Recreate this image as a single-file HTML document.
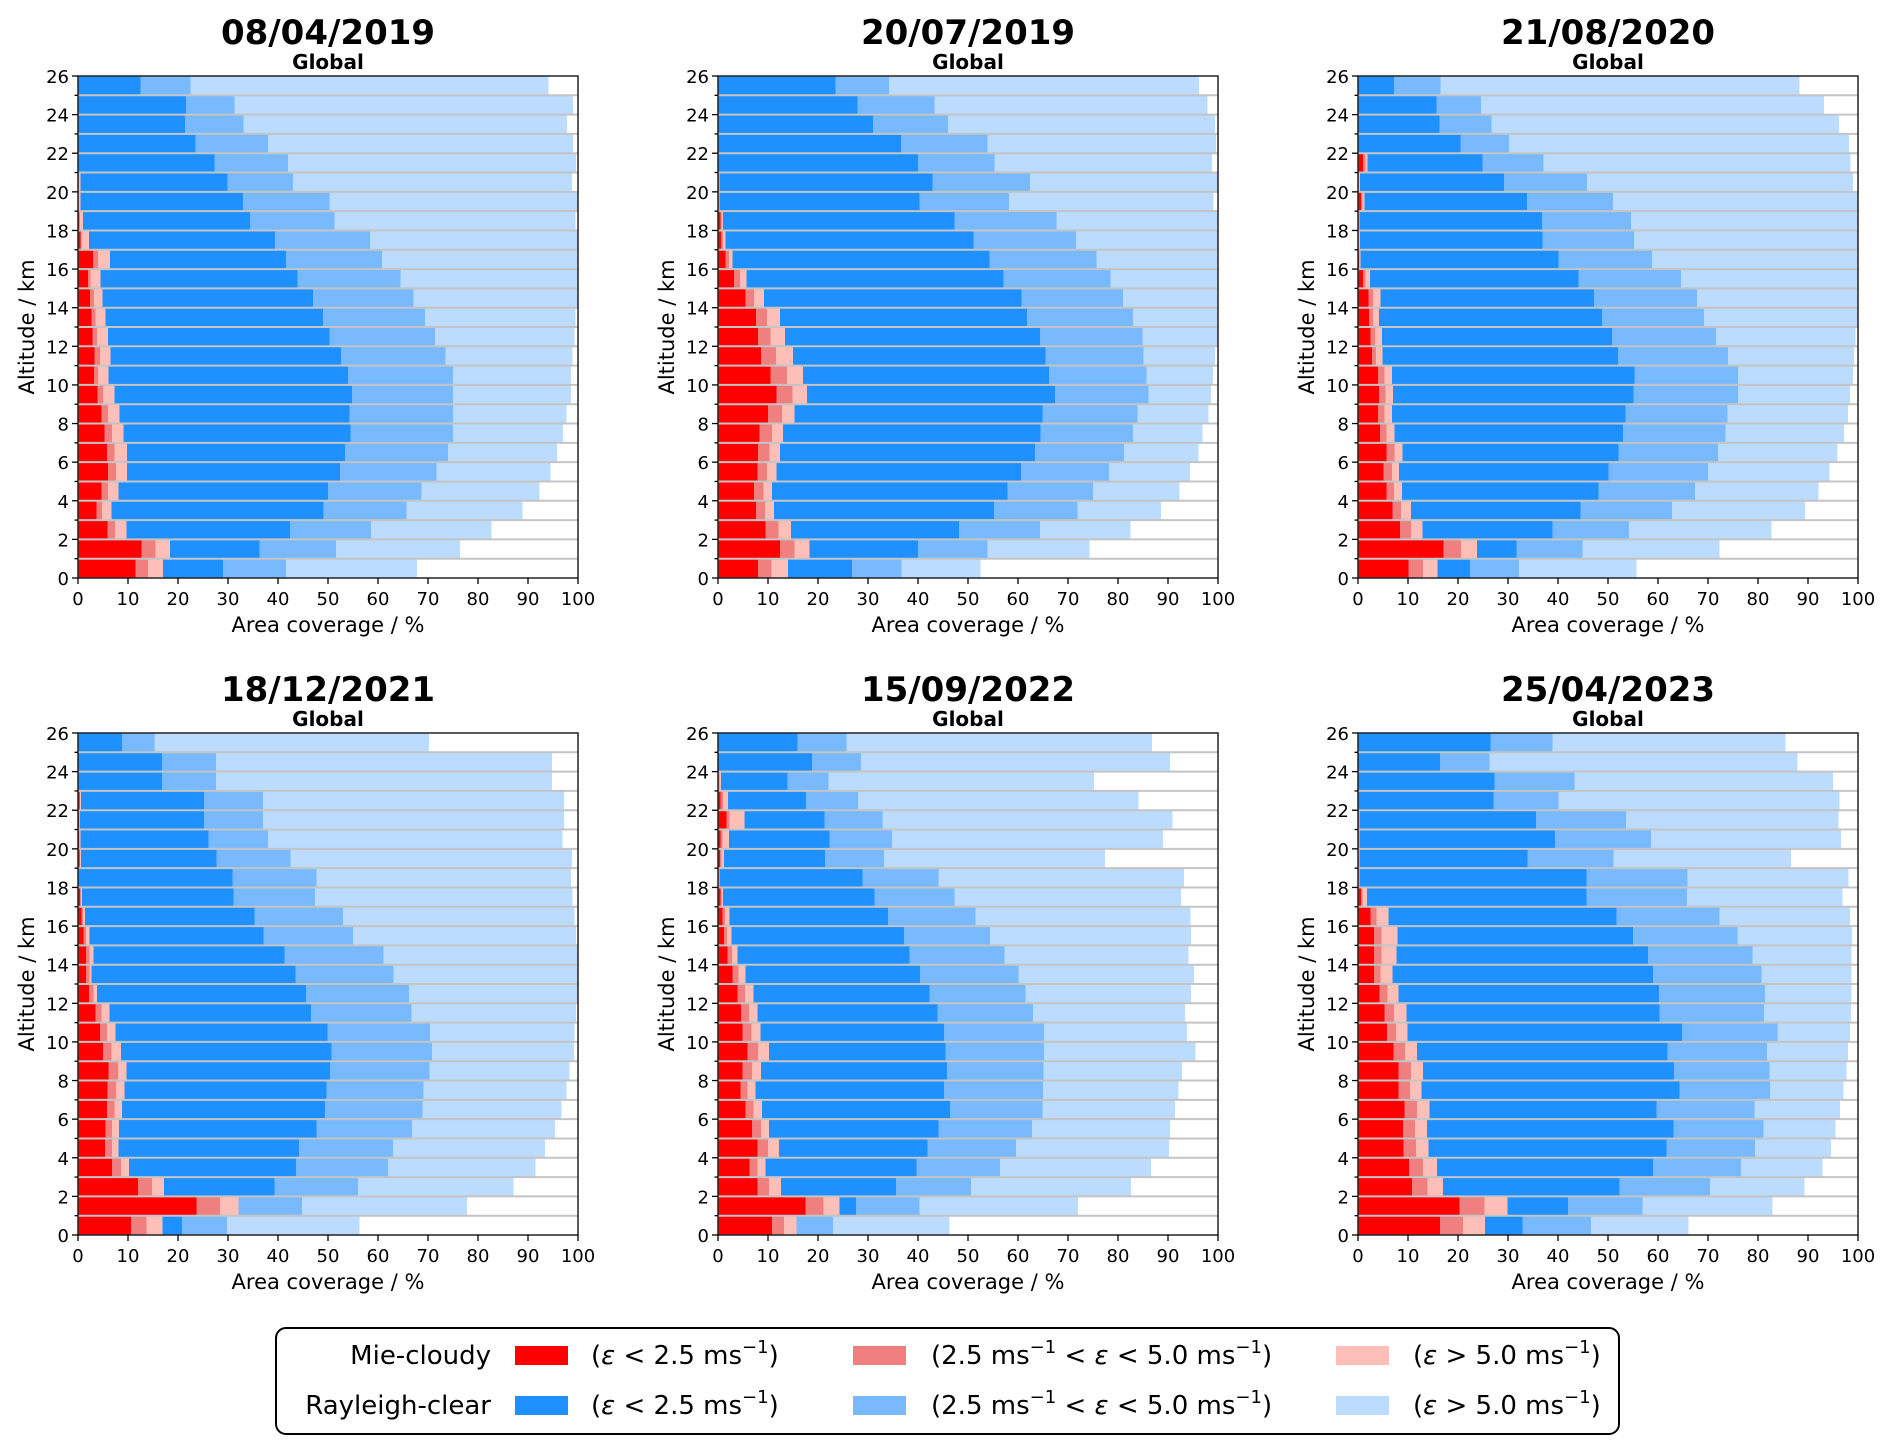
<!DOCTYPE html>
<html><head><meta charset="utf-8"><style>
html,body{margin:0;padding:0;background:#fff;}
svg{display:block;font-family:"DejaVu Sans","Liberation Sans",sans-serif;}
</style></head><body>
<svg id="fig" width="1892" height="1454" viewBox="0 0 1892 1454" xmlns="http://www.w3.org/2000/svg">
<g id="panels"></g>
<g>
<rect x="276" y="1328" width="1343" height="106" rx="10" fill="#fff" stroke="#000" stroke-width="2"/>
<text x="491" y="1364" font-size="26" text-anchor="end">Mie-cloudy</text>
<text x="491" y="1414" font-size="26" text-anchor="end">Rayleigh-clear</text>
<rect x="515" y="1346" width="53" height="19" fill="#ff0000"/>
<rect x="853" y="1346" width="53" height="19" fill="#f08080"/>
<rect x="1336" y="1346" width="53" height="19" fill="#ffbfb9"/>
<rect x="515" y="1396" width="53" height="19" fill="#1e90ff"/>
<rect x="853" y="1396" width="53" height="19" fill="#79baff"/>
<rect x="1336" y="1396" width="53" height="19" fill="#bbdcfe"/>
<text x="591" y="1364" font-size="26">(<tspan font-style="italic">ε</tspan> &lt; 2.5 ms<tspan dy="-11" font-size="18">−1</tspan><tspan dy="11">)</tspan></text>
<text x="931" y="1364" font-size="26">(2.5 ms<tspan dy="-11" font-size="18">−1</tspan><tspan dy="11"> &lt; </tspan><tspan font-style="italic">ε</tspan> &lt; 5.0 ms<tspan dy="-11" font-size="18">−1</tspan><tspan dy="11">)</tspan></text>
<text x="1413" y="1364" font-size="26">(<tspan font-style="italic">ε</tspan> &gt; 5.0 ms<tspan dy="-11" font-size="18">−1</tspan><tspan dy="11">)</tspan></text>
<text x="591" y="1414" font-size="26">(<tspan font-style="italic">ε</tspan> &lt; 2.5 ms<tspan dy="-11" font-size="18">−1</tspan><tspan dy="11">)</tspan></text>
<text x="931" y="1414" font-size="26">(2.5 ms<tspan dy="-11" font-size="18">−1</tspan><tspan dy="11"> &lt; </tspan><tspan font-style="italic">ε</tspan> &lt; 5.0 ms<tspan dy="-11" font-size="18">−1</tspan><tspan dy="11">)</tspan></text>
<text x="1413" y="1414" font-size="26">(<tspan font-style="italic">ε</tspan> &gt; 5.0 ms<tspan dy="-11" font-size="18">−1</tspan><tspan dy="11">)</tspan></text>
</g>
</svg>
<script>
const titles = ["08/04/2019","20/07/2019","21/08/2020","18/12/2021","15/09/2022","25/04/2023"];
const xTicks = [0,10,20,30,40,50,60,70,80,90,100];
const yTicks = [0,2,4,6,8,10,12,14,16,18,20,22,24,26];

const p1_mieLow  = [11.5,12.7,5.9,3.7,4.7,6.0,5.8,5.3,4.7,3.9,3.2,3.3,2.9,2.7,2.4,2.0,3.0,0.5,0.2,0.1,0.1,0,0,0,0,0];
const p1_mieMid  = [14,15.5,7.4,4.8,6.0,7.6,7.3,6.8,6.0,5.0,4.0,4.4,3.8,3.5,3.2,2.5,4.0,0.7,0.4,0.2,0.2,0,0,0,0,0];
const p1_mieHigh = [17,18.4,9.7,6.7,8.1,9.8,9.8,9.1,8.3,7.3,6.1,6.5,6.0,5.5,4.9,4.5,6.4,2.2,1.0,0.5,0.5,0.1,0,0,0,0];
const p1_rayLow  = [29,36.3,42.4,49.1,50.0,52.4,53.4,54.5,54.3,54.8,54.0,52.6,50.3,49.0,47.0,43.9,41.6,39.4,34.4,33.0,29.9,27.3,23.5,21.4,21.6,12.5];
const p1_rayMid  = [41.6,51.6,58.6,65.7,68.7,71.7,74.0,75.0,75.0,75.0,75.0,73.5,71.4,69.4,67.1,64.5,60.8,58.4,51.3,50.3,43.0,42.0,38.0,33.1,31.3,22.5];
const p1_rayHigh = [67.8,76.4,82.7,88.9,92.3,94.5,95.8,97.0,97.7,98.6,98.6,98.9,99.3,99.5,100,100,100,100,99.5,100,98.8,99.6,99.0,97.8,99.0,94.1];

const p2_mieLow  = [8.0,12.4,9.5,7.6,7.2,7.9,8.0,8.3,10.0,11.7,10.5,8.6,8.0,7.6,5.5,3.2,1.5,0.6,0.5,0.1,0.1,0,0,0,0,0];
const p2_mieMid  = [10.7,15.3,12.1,9.4,9.1,9.8,10.3,10.8,12.8,14.9,13.8,11.6,10.5,9.8,7.2,4.4,2.2,1.0,0.7,0.2,0.2,0,0,0,0,0];
const p2_mieHigh = [14.0,18.3,14.6,11.2,10.8,11.7,12.4,13.0,15.3,17.8,17.0,15.0,13.4,12.4,9.2,5.7,2.9,1.5,1.0,0.3,0.3,0.1,0,0,0,0];
const p2_rayLow  = [26.8,40.0,48.2,55.2,57.9,60.6,63.4,64.5,64.9,67.4,66.2,65.5,64.4,61.8,60.7,57.1,54.3,51.1,47.3,40.3,42.9,40.0,36.6,31.0,27.9,23.5];
const p2_rayMid  = [36.7,53.9,64.4,71.9,75.0,78.2,81.2,83.0,83.9,86.1,85.7,85.1,84.9,83.0,81.0,78.5,75.7,71.6,67.7,58.2,62.4,55.3,53.9,46.0,43.3,34.2];
const p2_rayHigh = [52.5,74.3,82.5,88.6,92.3,94.4,96.1,96.9,98.1,98.6,99.0,99.4,100,100,100,100,100,100,100,99.1,100,98.8,99.6,99.4,97.9,96.2];

const p3_mieLow  = [10.1,17.1,8.4,6.9,5.7,5.1,5.7,4.4,4.0,4.2,4.0,2.8,2.5,2.2,2.1,1.0,0.2,0.1,0.1,0.6,0.1,1.0,0,0,0,0];
const p3_mieMid  = [13.0,20.6,10.6,8.6,7.2,6.8,7.3,5.7,5.3,5.5,5.3,3.6,3.4,3.0,3.0,1.5,0.3,0.2,0.2,0.9,0.2,1.5,0,0,0,0];
const p3_mieHigh = [15.9,23.8,12.9,10.6,8.8,8.2,8.9,7.3,6.8,7.0,6.8,4.9,4.8,4.2,4.5,2.4,0.5,0.4,0.3,1.3,0.4,1.9,0,0,0,0];
const p3_rayLow  = [22.4,31.7,38.9,44.5,48.1,50.1,52.1,53.0,53.5,55.1,55.3,52.0,50.8,48.8,47.2,44.1,40.1,36.9,36.8,33.8,29.2,24.9,20.5,16.3,15.7,7.2];
const p3_rayMid  = [32.2,44.9,54.2,62.8,67.4,70.0,72.0,73.5,73.9,76.0,76.0,74.0,71.6,69.2,67.8,64.6,58.8,55.2,54.6,51.0,45.8,37.1,30.2,26.7,24.6,16.5];
const p3_rayHigh = [55.7,72.3,82.7,89.4,92.1,94.3,95.9,97.2,98.0,98.4,99.0,99.2,99.5,100,100,100,100,100,100,100,99.0,98.5,98.2,96.2,93.2,88.3];

const p4_mieLow  = [10.6,23.7,12.0,6.8,5.4,5.5,5.8,5.9,6.1,5.0,4.4,3.5,2.2,1.6,1.6,1.1,0.7,0.4,0,0.3,0.2,0.2,0.3,0,0,0];
const p4_mieMid  = [13.7,28.4,14.8,8.6,6.8,6.8,7.3,7.6,8.0,6.7,5.8,4.7,3.1,2.3,2.3,1.6,1.0,0.6,0,0.4,0.3,0.3,0.4,0,0,0];
const p4_mieHigh = [16.9,32.1,17.2,10.2,8.1,8.2,8.8,9.3,9.7,8.6,7.5,6.3,3.8,2.7,3.1,2.3,1.4,0.8,0,0.6,0.5,0.4,0.6,0,0,0];
const p4_rayLow  = [20.8,32.1,39.3,43.6,44.2,47.7,49.4,49.7,50.4,50.7,49.9,46.6,45.6,43.5,41.3,37.1,35.3,31.1,30.9,27.7,26.1,25.2,25.2,16.8,16.8,8.8];
const p4_rayMid  = [29.8,44.8,56.0,62.0,63.0,66.8,68.9,69.1,70.3,70.8,70.4,66.7,66.2,63.1,61.1,55.0,53.0,47.4,47.7,42.5,38.0,37.0,37.0,27.6,27.6,15.3];
const p4_rayHigh = [56.3,77.8,87.1,91.5,93.4,95.4,96.7,97.7,98.3,99.2,99.3,99.6,100,100,100,99.6,99.3,98.9,98.6,98.8,96.9,97.2,97.2,94.8,94.8,70.2];

const p5_mieLow  = [10.8,17.5,7.9,6.3,7.9,6.8,5.5,4.5,4.9,5.9,4.9,4.6,3.9,2.9,1.9,1.2,0.9,0.5,0.1,0.4,0.5,1.7,0.5,0.1,0,0];
const p5_mieMid  = [13.2,21.1,10.2,7.9,10.0,8.6,7.1,5.9,6.8,8.0,6.7,6.2,5.4,4.1,2.8,1.8,1.4,0.7,0.2,0.7,0.9,2.3,1.0,0.3,0,0];
const p5_mieHigh = [15.7,24.3,12.6,9.5,12.2,10.2,8.8,7.5,8.6,10.2,8.5,7.9,7.1,5.5,3.9,2.7,2.3,1.0,0.3,1.2,2.2,5.3,2.0,0.6,0,0];
const p5_rayLow  = [15.7,27.6,35.6,39.7,41.9,44.1,46.4,45.2,45.8,45.5,45.2,43.9,42.3,40.4,38.3,37.2,34.0,31.3,28.9,21.4,22.3,21.3,17.6,13.9,18.8,15.9];
const p5_rayMid  = [23.0,40.3,50.6,56.4,59.6,62.8,64.9,65.0,65.1,65.2,65.2,63.0,61.5,60.1,57.3,54.4,51.5,47.3,44.1,33.2,34.8,32.9,28.0,22.1,28.6,25.7];
const p5_rayHigh = [46.3,72.0,82.6,86.6,90.2,90.4,91.4,92.1,92.8,95.5,93.8,93.4,94.6,95.2,94.1,94.6,94.5,92.6,93.2,77.4,89.0,90.9,84.1,75.2,90.4,86.8];

const p6_mieLow  = [16.4,20.3,10.8,10.2,9.1,9.0,9.3,8.1,8.1,7.1,5.8,5.3,4.3,3.2,3.2,3.2,2.5,0.6,0.1,0.1,0.1,0.1,0,0,0,0];
const p6_mieMid  = [21.0,25.3,13.9,13.0,11.6,11.4,11.8,10.4,10.6,9.4,7.6,7.2,5.9,4.5,4.7,4.7,3.7,0.9,0.2,0.2,0.2,0.2,0,0,0,0];
const p6_mieHigh = [25.4,29.9,17.0,15.8,14.1,13.8,14.3,12.7,13.0,11.8,9.9,9.7,8.1,6.9,7.7,7.9,6.1,1.8,0.3,0.3,0.3,0.3,0.1,0.1,0,0];
const p6_rayLow  = [32.9,42.0,52.3,59.0,61.7,63.1,59.7,64.3,63.2,61.9,64.8,60.3,60.2,59.0,58.0,55.0,51.7,45.7,45.7,33.9,39.4,35.6,27.1,27.3,16.4,26.5];
const p6_rayMid  = [46.6,56.9,70.4,76.6,79.4,81.1,79.3,82.4,82.3,81.8,83.9,81.2,81.4,80.7,78.9,75.9,72.3,65.8,65.9,51.1,58.6,53.6,40.1,43.3,26.3,38.9];
const p6_rayHigh = [66.1,82.9,89.3,92.9,94.6,95.5,96.4,97.1,97.7,98.0,98.4,98.6,98.7,98.7,98.7,98.8,98.4,96.9,98.1,86.6,96.6,96.1,96.3,95.0,87.9,85.5];

const panelSeries = [
  [p1_mieLow,p1_mieMid,p1_mieHigh,p1_rayLow,p1_rayMid,p1_rayHigh],
  [p2_mieLow,p2_mieMid,p2_mieHigh,p2_rayLow,p2_rayMid,p2_rayHigh],
  [p3_mieLow,p3_mieMid,p3_mieHigh,p3_rayLow,p3_rayMid,p3_rayHigh],
  [p4_mieLow,p4_mieMid,p4_mieHigh,p4_rayLow,p4_rayMid,p4_rayHigh],
  [p5_mieLow,p5_mieMid,p5_mieHigh,p5_rayLow,p5_rayMid,p5_rayHigh],
  [p6_mieLow,p6_mieMid,p6_mieHigh,p6_rayLow,p6_rayMid,p6_rayHigh]
];
const seriesNames = ["mie-low","mie-mid","mie-high","ray-low","ray-mid","ray-high"];
const colors = ["#ff0000","#f08080","#ffbfb9","#1e90ff","#79baff","#bbdcfe"];

const NS = "http://www.w3.org/2000/svg";
const root = document.getElementById("panels");
function mk(tag, attrs, parent){
  const e = document.createElementNS(NS, tag);
  for (const k in attrs) e.setAttribute(k, attrs[k]);
  parent.appendChild(e);
  return e;
}
const lefts = [78,718,1358], tops = [76,733];
const W = 500, H = 502;

panelSeries.forEach((series, p) => {
  const L = lefts[p % 3], T = tops[Math.floor(p / 3)];
  const xS = v => L + v / 100 * W;
  const yS = v => T + H - v / 26 * H;
  const g = mk("g", {}, root);
  
  
  for (let k = 0; k < 26; k++) {
    let prev = 0;
    for (let s = 0; s < 6; s++) {
      const v = series[s][k];
      if (v > prev) {
        const r = mk("rect", {x: xS(prev), y: yS(k + 1), width: xS(v) - xS(prev), height: yS(k) - yS(k + 1), fill: colors[s]}, g);
        
        
      }
      prev = Math.max(prev, v);
    }
  }
  for (let k = 1; k < 26; k++) {
    const ln = mk("line", {x1: L, x2: L + W, y1: yS(k), y2: yS(k), stroke: "#c4c4c4", "stroke-width": 2}, g);
    
    
  }
  const fr = mk("rect", {x: L, y: T, width: W, height: H, fill: "none", stroke: "#222", "stroke-width": 1.5}, g);
  
  
  xTicks.forEach(t => {
    mk("line", {x1: xS(t), x2: xS(t), y1: T + H, y2: T + H + 6, stroke: "#000", "stroke-width": 1.3}, g);
    const tx = mk("text", {x: xS(t), y: T + H + 27, "font-size": 18, "text-anchor": "middle"}, g);
    
    
    tx.textContent = t;
  });
  for (let k = 0; k <= 26; k++) {
    const major = k % 2 === 0;
    mk("line", {x1: L - (major ? 6 : 3.5), x2: L, y1: yS(k), y2: yS(k), stroke: "#000", "stroke-width": 1.3}, g);
  }
  yTicks.forEach(t => {
    const ty = mk("text", {x: L - 9, y: yS(t) + 7, "font-size": 18, "text-anchor": "end"}, g);
    
    
    ty.textContent = t;
  });
  const xl = mk("text", {x: L + W / 2, y: T + H + 54, "font-size": 21, "text-anchor": "middle"}, g);
  
  
  xl.textContent = "Area coverage / %";
  const yl = mk("text", {x: 0, y: 0, "font-size": 21, "text-anchor": "middle", transform: "translate(" + (L - 44) + "," + (T + H / 2) + ") rotate(-90)"}, g);
  
  
  yl.textContent = "Altitude / km";
  const tt = mk("text", {x: L + W / 2, y: T - 32, "font-size": 34, "font-weight": "bold", "text-anchor": "middle"}, g);
  
  
  tt.textContent = titles[p];
  const st = mk("text", {x: L + W / 2, y: T - 7, "font-size": 20, "font-weight": "bold", "text-anchor": "middle"}, g);
  
  
  st.textContent = "Global";
});
</script>
</body></html>
